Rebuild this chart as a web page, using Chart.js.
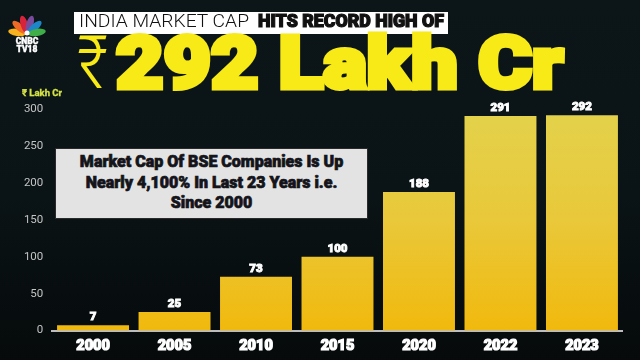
<!DOCTYPE html>
<html>
<head>
<meta charset="utf-8">
<script src="https://cdn.jsdelivr.net/npm/chart.js@4.4.1/dist/chart.umd.min.js"></script>
<style>
  html, body { margin: 0; padding: 0; }
  body {
    width: 640px; height: 360px; overflow: hidden; position: relative;
    background: linear-gradient(180deg, #0c1517 0%, #0a1315 55%, #060a0b 100%);
    font-family: Roboto, "DejaVu Sans", sans-serif;
  }
  #wrap { position: absolute; left: 0; top: 0; width: 640px; height: 360px; }
  .abs { position: absolute; white-space: nowrap; transform-origin: 0 0; }
  #headBox { left: 74px; top: 12px; width: 374px; height: 22px; background: #ffffff; }
  #headThin { font-weight: 300; font-size: 17.7px; line-height: 17.7px; color: #111; }
  #headBold { font-weight: 900; font-size: 17.7px; line-height: 17.7px; color: #111; -webkit-text-stroke: 1.2px #111; }
  #rupee { font-weight: 300; font-size: 74px; line-height: 74px; color: #f8ea17; }
  #bigNum { font-weight: 900; font-size: 72px; line-height: 72px; color: #f8ea17; -webkit-text-stroke: 5px #f8ea17; }
  #unit { left: 22px; top: 87px; font-weight: 700; font-size: 9.5px; line-height: 12px; color: #d6e447; -webkit-text-stroke: 0.3px #d6e447; }
  #note {
    left: 55px; top: 148px; width: 311px; height: 66px; background: #e3e3e3;
    border: 1px solid #2a2a2a; text-align: center; color: #14141a;
    font-weight: 900; font-size: 16px; line-height: 20.5px; padding-top: 3px; box-sizing: content-box;
    -webkit-text-stroke: 0.7px #14141a;
  }
  #logoTxt { left: 10px; top: 38px; width: 34px; text-align: center; color: #fff; font-weight: 900; font-size: 8.5px; line-height: 7.5px; -webkit-text-stroke: 0.4px #fff; }
</style>
</head>
<body>
<div id="wrap"><canvas id="myChart" width="640" height="360"></canvas></div>
<div class="abs" id="headBox"></div>
<div class="abs" id="headThin" data-x="79" data-y="13.4" data-w="170">INDIA MARKET CAP</div>
<div class="abs" id="headBold" data-x="258" data-y="13.4" data-w="186">HITS RECORD HIGH OF</div>
<div class="abs" id="rupee" data-x="77" data-y="26" data-w="31">₹</div>
<div class="abs" id="bigNum" data-x="115.5" data-y="27.6" data-w="447">292 Lakh Cr</div>
<div class="abs" id="unit">₹ Lakh Cr</div>
<div class="abs" id="note">Market Cap Of BSE Companies Is Up<br>Nearly 4,100% In Last 23 Years i.e.<br>Since 2000</div>
<div class="abs" id="logoTxt">CNBC<br>TV18</div>
<script>
// data
var years = ['2000', '2005', '2010', '2015', '2020', '2022', '2023']
var marketCap = [7, 25, 73, 100, 188, 291, 292]
var yTicks = [0, 50, 100, 150, 200, 250, 300]

// fit the heading texts to their widths
function fitTexts() {
    document.querySelectorAll('[data-w]').forEach(function (el) {
        el.style.left = el.dataset.x + 'px'
        el.style.top = el.dataset.y + 'px'
        el.style.transform = 'none'
        var w = el.getBoundingClientRect().width
        el.style.transform = 'scaleX(' + (el.dataset.w / w) + ')'
    })
}
fitTexts()
if (document.fonts) document.fonts.ready.then(fitTexts)

// peacock logo + bar value labels
const extras = {
    id: 'extras',
    beforeDraw(chart) {
        const c = chart.ctx
        const cols = ['#f7b21e', '#ef6b25', '#d8243b', '#7a4b9c', '#1c86c8', '#3fae49']
        c.save()
        for (let i = 0; i < 6; i++) {
            const ang = Math.PI * (1.05 + i * 0.18)
            c.save()
            c.translate(27, 34)
            c.rotate(ang + Math.PI / 2)
            c.fillStyle = cols[i]
            c.beginPath()
            c.ellipse(0, -10, 3.6, 9, 0, 0, Math.PI * 2)
            c.fill()
            c.restore()
        }
        c.fillStyle = '#ffffff'
        c.beginPath()
        c.arc(27, 33, 2.5, 0, Math.PI * 2)
        c.fill()
        c.restore()
    },
    afterDatasetsDraw(chart) {
        const c = chart.ctx
        const meta = chart.getDatasetMeta(0)
        c.save()
        c.fillStyle = '#ffffff'
        c.strokeStyle = '#ffffff'
        c.lineWidth = 0.9
        c.font = '900 11.5px Roboto, "DejaVu Sans", sans-serif'
        c.textAlign = 'center'
        c.textBaseline = 'middle'
        meta.data.forEach(function (bar, i) {
            c.strokeText(String(marketCap[i]), bar.x, bar.y - 8)
            c.fillText(String(marketCap[i]), bar.x, bar.y - 8)
        })
        c.restore()
    }
}

const ctx = document.getElementById('myChart').getContext('2d')

const myChart = new Chart(ctx, {
    type: 'bar',
    data: {
        labels: years,
        datasets: [{
            data: marketCap,
            backgroundColor: function (context) {
                const area = context.chart.chartArea
                if (!area) return '#ecc52a'
                const g = context.chart.ctx.createLinearGradient(0, area.top, 0, area.bottom)
                g.addColorStop(0, '#e3d24c')
                g.addColorStop(0.5, '#e9c83a')
                g.addColorStop(1, '#f1b90d')
                return g
            },
            borderWidth: 0,
            categoryPercentage: 1,
            barPercentage: 0.883
        }]
    },
    options: {
        responsive: false,
        animation: false,
        layout: { padding: { left: 0, right: 17.3, top: 109.3, bottom: 0 } },
        plugins: { legend: { display: false }, tooltip: { enabled: false } },
        scales: {
            x: {
                grid: { display: false, drawTicks: false },
                border: { display: true, color: '#bdbdbd', width: 2 },
                ticks: {
                    color: '#ffffff',
                    textStrokeColor: '#ffffff',
                    textStrokeWidth: 1.2,
                    padding: 7,
                    font: { family: 'Roboto, "DejaVu Sans", sans-serif', size: 14.5, weight: '900' }
                },
                afterFit: function (s) { s.height = 29.5 }
            },
            y: {
                min: 0,
                max: 300,
                grid: { display: false, drawTicks: false },
                border: { display: false },
                afterBuildTicks: function (s) { s.ticks = yTicks.map(function (v) { return { value: v } }) },
                ticks: {
                    color: '#c4c4c4',
                    padding: 9,
                    font: { family: 'Roboto, "DejaVu Sans", sans-serif', size: 11.5 }
                },
                afterFit: function (s) { s.width = 52.3 }
            }
        }
    },
    plugins: [extras]
})
</script>
</body>
</html>
